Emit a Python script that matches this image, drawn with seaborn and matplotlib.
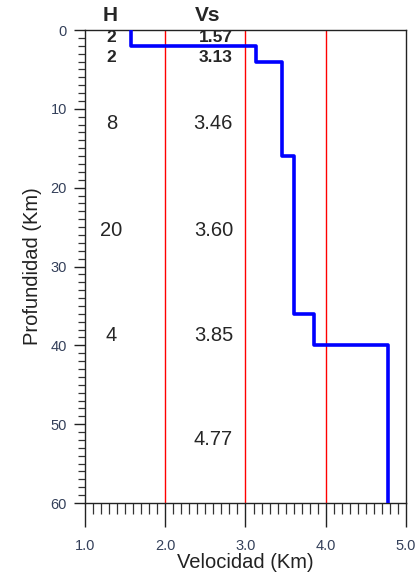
import matplotlib
matplotlib.use("Agg")
import matplotlib.pyplot as plt
import seaborn as sns
import pandas as pd
from matplotlib.ticker import MultipleLocator

# Data
layer_top = [0, 2, 4, 16, 36, 40]
layer_bottom = [2, 4, 16, 36, 40, 60]
velocity = [1.57, 3.13, 3.46, 3.60, 3.85, 4.77]
h_labels = ["2", "2", "8", "20", "4"]
h_label_depth = [0.9, 3.5, 11.9, 25.4, 38.7]
vs_labels = ["1.57", "3.13", "3.46", "3.60", "3.85", "4.77"]
vs_label_depth = [0.9, 3.5, 11.9, 25.4, 38.7, 52.0]
ref_lines = [2.0, 3.0, 4.0]
x_ticks = [1.0, 2.0, 3.0, 4.0, 5.0]
y_ticks = [0, 10, 20, 30, 40, 50, 60]

sns.set_style("ticks")
plt.rcParams['font.family'] = ['Liberation Sans', 'DejaVu Sans']

# step vertices
xs, ys = [], []
for v, t, b in zip(velocity, layer_top, layer_bottom):
    xs += [v, v]
    ys += [t, b]
df = pd.DataFrame({"Velocidad": xs, "Profundidad": ys})

fig = plt.figure(figsize=(4.17, 5.77), dpi=100)
ax = fig.add_axes([0.2038, 0.1282, 0.7698, 0.8198])

for xv in ref_lines:
    ax.axvline(xv, color="#ff0000", lw=1.0, zorder=1)

sns.lineplot(data=df, x="Velocidad", y="Profundidad", sort=False, estimator=None,
             color="#0000ff", lw=2.6, ax=ax, zorder=3)

ax.set_xlim(1.0, 5.0)
ax.set_ylim(60, 0)
ax.set_xticks(x_ticks)
ax.set_xticklabels([f"{t:.1f}" for t in x_ticks])
ax.set_yticks(y_ticks)
ax.xaxis.set_minor_locator(MultipleLocator(0.1))
ax.yaxis.set_minor_locator(MultipleLocator(1))

lab_col = "#34405a"
ax.tick_params(axis="x", which="major", direction="out", length=17, width=1, pad=9,
               labelsize=10.5, labelcolor=lab_col, color="#222222")
ax.tick_params(axis="x", which="minor", direction="out", length=8, width=0.9, color="#333333")
ax.tick_params(axis="y", which="major", direction="out", length=8, width=1, pad=5,
               labelsize=10.5, labelcolor=lab_col, color="#222222")
ax.tick_params(axis="y", which="minor", direction="out", length=5, width=0.9, color="#333333")

for s in ax.spines.values():
    s.set_visible(True)
    s.set_color("#222222")
    s.set_linewidth(1.0)

ax.set_xlabel("Velocidad (Km)", fontsize=14.5, color="#222222", labelpad=0)
ax.set_ylabel("Profundidad (Km)", fontsize=14.5, color="#222222", labelpad=6)

# header
ax.text(1.31, -1.9, "H", fontsize=15, fontweight="bold", ha="center", va="center",
        clip_on=False)
ax.text(2.53, -1.9, "Vs", fontsize=15, fontweight="bold", ha="center", va="center",
        clip_on=False)

for i, (lab, d) in enumerate(zip(h_labels, h_label_depth)):
    if i < 2:
        ax.text(1.33, d, lab, fontsize=12.5, fontweight="bold", ha="center", va="center")
    else:
        ax.text(1.33, d, lab, fontsize=14.5, ha="center", va="center")
for i, (lab, d) in enumerate(zip(vs_labels, vs_label_depth)):
    if i < 2:
        ax.text(2.63, d, lab, fontsize=12.5, fontweight="bold", ha="center", va="center")
    else:
        ax.text(2.6, d, lab, fontsize=14.5, ha="center", va="center")

fig.savefig("out.png", dpi=100)
